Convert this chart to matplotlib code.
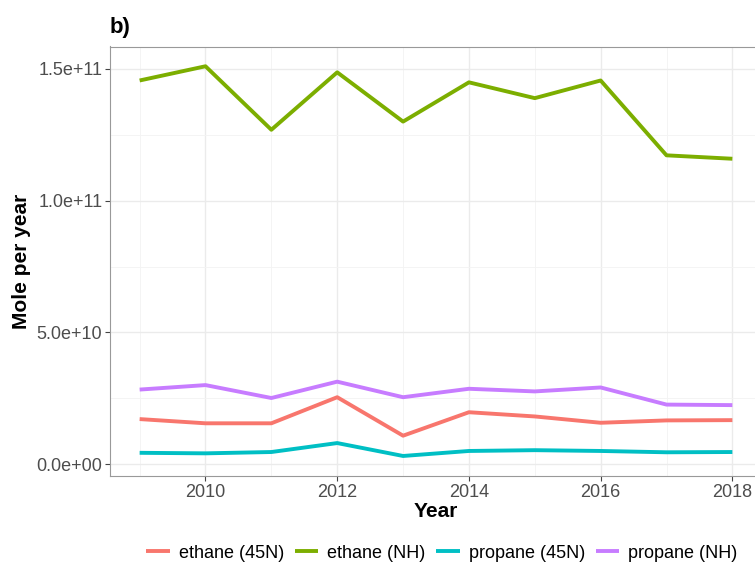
import matplotlib
matplotlib.use("Agg")
import matplotlib.pyplot as plt
from matplotlib.ticker import MultipleLocator

plt.rcParams['font.family'] = ['Liberation Sans', 'DejaVu Sans']

years = [2009, 2010, 2011, 2012, 2013, 2014, 2015, 2016, 2017, 2018]
ethane_45n = [1.71e10, 1.55e10, 1.55e10, 2.54e10, 1.08e10, 1.97e10, 1.81e10, 1.57e10, 1.66e10, 1.67e10]
ethane_nh = [1.456e11, 1.510e11, 1.269e11, 1.487e11, 1.300e11, 1.449e11, 1.389e11, 1.456e11, 1.172e11, 1.159e11]
propane_45n = [0.43e10, 0.41e10, 0.46e10, 0.80e10, 0.31e10, 0.50e10, 0.53e10, 0.50e10, 0.45e10, 0.46e10]
propane_nh = [2.83e10, 3.00e10, 2.51e10, 3.13e10, 2.54e10, 2.86e10, 2.76e10, 2.91e10, 2.26e10, 2.24e10]

series_names = ["ethane (45N)", "ethane (NH)", "propane (45N)", "propane (NH)"]
series_vals = [ethane_45n, ethane_nh, propane_45n, propane_nh]
colors = ["#F8766D", "#7CAE00", "#00BFC4", "#C77CFF"]

y_ticks = [0, 5e10, 1e11, 1.5e11]
y_tick_labels = ["0.0e+00", "5.0e+10", "1.0e+11", "1.5e+11"]
x_ticks = [2010, 2012, 2014, 2016, 2018]

W, H = 755, 567
fig = plt.figure(figsize=(W / 100, H / 100), dpi=100)
ax = fig.add_axes([110 / W, 91 / H, 652 / W, 429.5 / H])

handles = []
for name, vals, c in zip(series_names, series_vals, colors):
    h, = ax.plot(years, vals, color=c, lw=2.8, label=name, solid_capstyle='butt', zorder=3)
    handles.append(h)

ax.set_xlim(2008.55, 2018.45)
ax.set_ylim(-0.45e10, 1.585e11)
ax.set_xticks(x_ticks)
ax.set_xticklabels([str(x) for x in x_ticks])
ax.xaxis.set_minor_locator(MultipleLocator(1))
ax.set_yticks(y_ticks)
ax.set_yticklabels(y_tick_labels)
ax.yaxis.set_minor_locator(MultipleLocator(2.5e10))

ax.grid(which='major', color='#EBEBEB', lw=1.0, zorder=0)
ax.grid(which='minor', color='#F3F3F3', lw=0.6, zorder=0)
ax.set_axisbelow(True)
for s in ax.spines.values():
    s.set_color('#999999')
    s.set_linewidth(0.8)
ax.tick_params(which='major', length=3.5, width=0.8, color='#444444', labelsize=13,
               labelcolor='#4D4D4D', pad=2)
ax.tick_params(which='minor', length=0)

ax.set_xlabel("Year", fontsize=15, fontweight='bold', labelpad=1)
ax.set_ylabel("Mole per year", fontsize=15, fontweight='bold', labelpad=4)
fig.text(110 / W, 1 - 28 / H, "b)", fontsize=16, fontweight='bold', ha='left', va='center')

fig.legend(handles=handles, labels=series_names, loc='center', ncol=4,
           bbox_to_anchor=(442 / W, 1 - 553 / H), frameon=False, fontsize=13,
           handlelength=1.3, handletextpad=0.5, columnspacing=0.6)

fig.savefig("out.png", dpi=100)
